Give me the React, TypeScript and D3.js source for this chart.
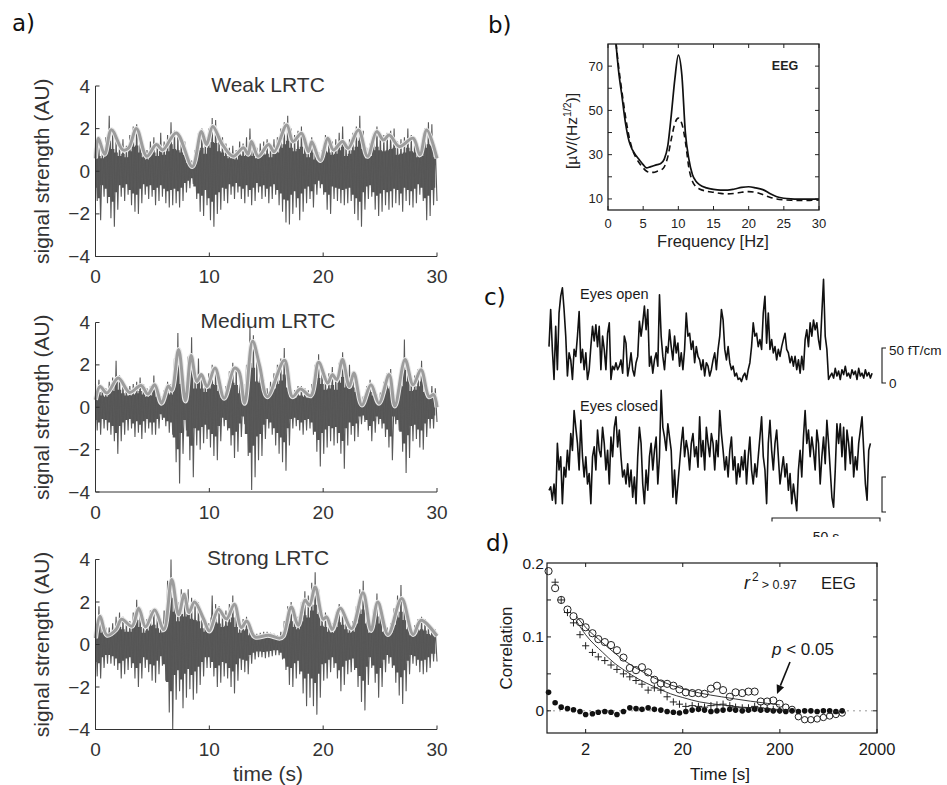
import React from 'react';
import * as d3 from 'd3';

const SANS = 'Liberation Sans, Arial, Helvetica, sans-serif';
const LABEL_FONT = 'DejaVu Sans, Verdana, sans-serif';

// ---------- panel a: three simulated signals (100 bins over 0-30 s) ----------
const TIME_TICKS = [0, 10, 20, 30];
const AMP_TICKS = [-4, -2, 0, 2, 4];

const weakHi = [1.5,1.3,1.1,1.6,2.6,1.9,1.6,1.3,1.5,1.2, 1.7,2.1,2.2,1.6,1.2,1.0,1.4,1.6,1.3,1.8, 1.4,1.7,2.3,1.9,1.8,1.6,1.4,0.7,0.5,1.0, 1.8,2.0,1.5,2.0,2.5,2.4,1.7,1.6,1.3,1.1, 1.2,1.0,1.4,1.3,1.6,2.0,1.3,1.1,1.3,1.4, 1.5,1.2,1.5,1.6,2.0,2.3,2.6,2.0,1.7,1.9, 2.1,1.5,1.2,1.6,1.0,0.9,1.0,1.7,1.6,1.4, 1.5,1.8,2.1,1.3,1.5,1.8,2.1,2.6,1.9,1.1, 1.3,1.8,2.1,1.8,1.7,1.8,1.9,2.0,1.4,1.5, 1.6,2.0,1.7,1.6,1.2,1.3,2.0,2.3,2.2,1.2];
const weakLo = [-1.4,-2.3,-1.2,-1.5,-2.2,-2.6,-1.8,-1.2,-1.4,-1.1, -1.6,-1.9,-2.0,-1.5,-1.1,-1.3,-1.2,-1.6,-1.4,-1.2, -1.5,-1.7,-1.6,-1.5,-1.7,-1.4,-1.0,-0.8,-0.6,-1.3, -1.9,-2.1,-1.6,-2.3,-2.6,-2.0,-1.8,-1.4,-1.5,-1.1, -1.3,-1.0,-1.3,-1.5,-1.2,-1.6,-1.4,-1.0,-1.3,-1.2, -1.5,-1.3,-1.1,-1.6,-1.9,-2.4,-2.5,-2.0,-1.7,-2.3, -1.9,-1.5,-1.3,-1.7,-1.1,-0.8,-1.1,-1.8,-2.0,-1.3, -1.4,-1.5,-1.6,-1.5,-1.4,-2.0,-2.3,-2.6,-1.8,-1.3, -1.2,-1.8,-2.1,-1.9,-1.6,-1.8,-1.7,-1.5,-1.6,-1.9, -1.4,-1.6,-1.7,-1.5,-1.1,-1.4,-2.3,-2.1,-1.6,-1.4];
const weakEnv: [number, number][] = [[0,0.6],[0.25,1.55],[0.8,0.8],[1.4,1.95],[2.4,1.0],[2.9,1.08],[3.6,2.0],[4.5,0.7],[5.35,1.25],[5.9,1.0],[7.1,1.8],[8.5,0.22],[9.3,1.86],[9.75,1.25],[10.3,2.1],[11.1,1.3],[12.1,0.7],[13.0,1.1],[13.4,0.8],[13.7,1.4],[14.3,0.7],[15.2,1.25],[15.7,0.92],[16.8,2.17],[17.35,1.4],[18.1,1.78],[18.7,0.92],[19.0,1.39],[19.75,0.5],[20.4,1.55],[20.9,1.0],[21.7,1.4],[22.2,1.08],[23.1,1.94],[23.9,0.7],[24.7,1.86],[25.3,1.47],[25.8,1.7],[26.7,1.16],[27.9,1.55],[28.5,0.77],[29.1,1.94],[30,0.6]];

const mediumHi = [1.1,1.3,1.0,0.9,1.2,1.4,2.2,1.5,1.2,1.0, 1.0,1.1,1.2,1.4,1.1,0.9,1.0,1.5,0.9,0.5, 0.8,1.2,1.1,2.3,3.5,2.0,0.9,2.4,3.3,1.6, 2.3,1.6,1.3,1.6,2.0,1.9,1.4,0.8,1.0,1.7, 2.1,1.9,1.2,0.7,2.0,3.8,3.4,2.2,2.1,1.3, 0.9,1.2,1.6,2.0,2.3,2.8,1.7,0.9,0.8,1.0, 1.0,0.9,0.8,1.1,2.0,2.5,2.0,1.5,1.6,1.9, 1.5,2.1,2.6,1.7,2.0,1.7,1.3,0.6,0.5,1.0, 1.3,1.0,0.6,0.7,1.2,1.6,1.8,0.5,0.9,1.8, 3.2,2.2,1.4,1.5,1.8,2.2,1.3,0.8,1.0,0.9];
const mediumLo = [-1.1,-1.3,-1.0,-1.1,-1.3,-1.6,-2.2,-1.6,-1.3,-1.1, -1.0,-1.4,-1.2,-1.5,-1.2,-1.0,-1.3,-1.3,-1.0,-0.6, -0.9,-1.2,-1.3,-2.6,-3.6,-2.2,-1.1,-2.5,-3.3,-1.8, -2.0,-1.7,-1.5,-1.9,-2.3,-2.5,-1.6,-0.9,-1.1,-1.8, -2.4,-2.1,-1.4,-0.8,-2.3,-3.9,-3.3,-2.5,-2.3,-1.5, -1.0,-1.3,-1.8,-2.2,-2.6,-3.0,-1.8,-1.0,-0.9,-1.1, -1.3,-1.1,-1.0,-1.3,-2.1,-2.8,-2.2,-1.9,-1.6,-1.8, -1.7,-2.2,-2.9,-1.8,-1.3,-1.6,-1.4,-0.8,-0.7,-1.1, -1.6,-1.2,-0.8,-1.0,-1.4,-1.9,-2.5,-0.8,-1.1,-2.1, -3.1,-2.4,-1.6,-1.5,-1.9,-2.0,-1.4,-1.0,-1.0,-0.7];
const mediumEnv: [number, number][] = [[0,0.35],[0.4,0.98],[1.0,0.67],[2.0,1.38],[3.0,0.7],[4.0,1.03],[4.6,0.62],[5.2,1.06],[5.8,0.19],[6.4,1.0],[6.7,0.8],[7.3,2.73],[7.9,0.3],[8.4,2.44],[8.9,1.22],[9.3,1.54],[9.8,0.98],[10.5,1.85],[11.3,0.43],[12.2,1.85],[12.6,1.7],[13.1,0.19],[13.8,3.12],[14.4,2.0],[15.1,0.5],[16.6,2.22],[17.3,0.5],[18.0,0.86],[18.9,0.54],[19.6,2.12],[20.4,1.14],[20.8,1.54],[21.2,1.3],[21.7,2.25],[22.3,0.98],[22.7,1.62],[23.4,0.11],[24.2,1.06],[24.9,0.19],[25.8,1.54],[26.3,0.06],[27.2,2.25],[27.9,1.06],[28.6,1.77],[29.3,0.5],[29.7,0.6],[30,0.0]];

const strongHi = [1.1,1.8,1.0,0.8,0.8,1.0,1.3,1.5,1.3,1.1, 1.1,1.5,2.1,1.5,1.0,1.2,1.6,1.7,1.4,1.0, 1.6,3.0,4.0,2.8,2.0,2.6,2.4,2.6,2.2,2.1, 2.0,1.4,1.1,1.0,2.3,1.9,1.8,1.5,1.6,1.9, 2.3,1.5,1.0,1.2,1.3,0.8,0.6,0.5,0.55,0.6, 0.6,0.55,0.5,0.45,0.6,1.1,1.8,2.0,1.5,1.3, 2.0,2.5,2.3,2.9,3.4,2.6,1.6,1.5,1.1,1.0, 1.5,1.9,1.7,1.3,1.0,1.1,1.8,2.6,3.0,1.8, 1.0,1.7,2.4,1.8,1.1,0.8,1.0,1.7,2.3,2.8, 2.1,1.3,0.8,0.9,1.2,1.3,1.2,0.9,0.8,0.7];
const strongLo = [-1.5,-1.6,-1.1,-0.9,-0.9,-1.0,-1.2,-1.6,-1.4,-1.2, -1.1,-1.6,-2.0,-1.6,-1.1,-1.3,-1.7,-1.8,-1.4,-1.0, -1.7,-3.2,-4.0,-2.6,-2.2,-3.0,-2.5,-2.1,-2.6,-2.3, -1.9,-1.5,-1.1,-1.1,-1.5,-2.0,-1.8,-1.5,-1.6,-2.0, -2.3,-1.7,-1.2,-1.3,-1.4,-0.9,-0.7,-0.6,-0.6,-0.65, -0.6,-0.55,-0.5,-0.5,-0.7,-1.2,-1.9,-2.0,-1.6,-1.4, -2.3,-2.9,-2.5,-2.9,-3.3,-2.5,-1.7,-1.6,-1.3,-1.1, -1.6,-2.2,-1.9,-1.4,-1.3,-1.2,-2.0,-2.7,-3.1,-1.9, -1.1,-1.8,-2.5,-2.0,-1.3,-0.9,-1.1,-1.8,-2.4,-2.8, -2.2,-1.4,-0.9,-1.0,-1.3,-1.4,-1.3,-1.1,-0.8,-0.8];
const strongEnv: [number, number][] = [[0,0.3],[0.4,1.33],[1.0,0.44],[1.8,0.7],[2.3,1.19],[3.2,0.86],[3.8,1.7],[4.4,0.83],[5.2,1.62],[6.0,0.7],[6.7,3.06],[7.3,1.4],[7.8,2.37],[8.2,1.5],[8.7,2.0],[9.5,1.2],[10.0,0.64],[10.8,1.66],[11.5,1.2],[12.2,1.9],[12.8,0.8],[13.3,1.1],[14.0,0.36],[15.2,0.44],[16.2,0.3],[16.5,0.4],[17.2,1.77],[17.8,0.9],[18.4,2.09],[18.8,1.85],[19.3,2.71],[20.0,1.19],[20.3,1.3],[20.8,0.7],[21.5,1.7],[22.5,0.75],[23.5,2.43],[24.2,0.67],[24.8,2.0],[25.7,0.47],[26.9,2.16],[27.9,0.47],[28.6,1.14],[30,0.4]];

// ---------- panel b: amplitude spectra ----------
const FREQS = [1.0,1.5,2,2.5,3,3.5,4,4.5,5,5.5, 6,6.5,7,7.5,8,8.5,9,9.5,10,10.5, 11,11.5,12,12.5,13,14,15,16,17,18, 19,20,21,22,23,24,25,26,27,28, 29,30];
const specSolid = [85,68,56,44,36,32,29.5,27.5,25.5,24, 24.5,25,25.5,26,28,34,48,64,75,66, 40,28,21,18,16.5,15,14.3,14,14,14.5, 15.2,15.5,15,14.2,12.5,11,10.3,10,9.9,9.9, 9.9,9.9];
const specDashed = [85,70,58,47,38,32,28.5,26,24,22.5, 22,22,22.5,23,24.5,29,37,44,46.5,44, 36,24,18,15.5,14.5,13.5,13,12.5,12.3,12.5, 13,13.3,13,12,10.8,10,9.6,9.4,9.3,9.3, 9.4,9.5];
const FREQ_TICKS = [0, 5, 10, 15, 20, 25, 30];
const SPEC_LABEL_TICKS = [10, 30, 50, 70];
const SPEC_MINOR_TICKS = [10, 20, 30, 40, 50, 60, 70];

// ---------- panel c: MEG amplitude traces (fT/cm), one sample per 0.775 s ----------
const SAMPLE_DT = 0.775;
const eyesOpen = [52,105,48,5,81,19,100,124,136,105, 67,10,43,33,5,48,38,67,102,29, 48,19,43,5,19,52,81,60,83,52, 81,19,67,48,19,71,86,5,24,19, 29,19,24,33,14,67,57,10,24,43, 19,10,29,38,88,67,86,110,76,105, 24,38,14,33,43,24,126,67,38,19, 52,43,76,52,33,67,43,57,24,43, 19,48,100,67,71,48,60,29,52,38, 33,19,33,10,29,24,10,19,33,43, 19,48,67,105,90,48,33,52,29,19, 24,10,14,5,7,2,10,14,5,19, 29,52,86,67,71,52,62,48,100,124, 57,100,48,62,43,52,33,48,38,52, 62,71,48,43,29,38,24,38,19,33, 14,38,19,62,76,52,86,67,90,76, 86,62,48,100,148,67,48,5,10, 14,7,21,10,17,5,19,12,24,10, 14,7,19,12,17,5,21,10,14,7, 19,10,15,7,14];
const eyesClosed = [31,36,17,40,12,98,60,79,12,64, 50,88,60,112,88,145,121,98,60,131, 79,50,79,40,55,12,79,93,60,117, 88,79,121,98,60,88,40,107,79,121, 136,93,117,79,50,60,40,69,36,60, 21,50,12,79,121,98,40,12,60,31, 79,98,60,88,107,40,79,174,121,107, 88,126,107,88,21,60,12,40,69,98, 121,79,102,88,60,98,112,79,93,64, 136,79,102,60,121,98,79,112,98,60, 102,79,145,112,88,60,79,50,88,107, 60,79,40,69,50,79,60,88,40,79, 107,60,40,69,50,79,107,136,79,60, 12,98,131,88,60,98,117,79,40,60, 79,50,69,31,55,12,40,21,2,60, 88,50,107,145,98,117,79,107,88,60, 117,98,40,79,107,69,131,98,60,21, 7,60,126,98,126,79,121,60,117,98, 69,107,50,79,60,98,117,136,88,40, 17,88,98];

// ---------- panel d: autocorrelation vs time lag ----------
const LAGS = [0.83,0.97,1.12,1.3,1.5,1.75,2.0,2.35,2.7,3.15, 3.65,4.2,4.9,5.7,6.6,7.6,8.8,10.2,11.9,13.8, 16,18.5,21.5,25,29,33.5,39,45,52,61, 70,82,95,110,127,148,171,199,230,267, 310,360,417,484,561,651,755,876];
const corrCircles = [0.189,0.166,0.150,0.137,0.128,0.120,0.113,0.105,0.097,0.093, 0.089,0.082,0.072,0.058,0.055,0.059,0.052,0.042,0.037,0.0365, 0.034,0.029,0.025,0.024,0.024,0.023,0.030,0.034,0.028,0.019, 0.025,0.024,0.026,0.026,0.0126,0.0126,0.014,0.0095,0.005,0.002, -0.008,-0.012,-0.012,-0.011,-0.009,-0.007,-0.005,-0.003];
const corrPlus: (number | null)[] = [null,0.174,0.150,0.133,0.119,0.103,0.088,0.079,0.073,0.068, 0.062,0.056,0.050,0.046,0.041,0.036,0.028,0.031,0.028,0.019, 0.012,0.009,0.006,0.007,0.006,0.005,0.007,0.008,0.009,0.007, 0.005,0.004,0.004,0.006,0.004,0.003,0.002,0.001];
const corrDots = [0.025,0.011,0.005,0.003,0.0015,-0.001,-0.005,-0.004,-0.002,-0.001, -0.002,-0.005,-0.001,0.004,0.003,0.002,0.004,0.002,0.001,-0.001, -0.002,-0.003,-0.001,0.001,0.002,0.001,-0.001,0.000,0.001,0.002, 0.001,0.000,0.001,0.002,0.001,0.001,0.000,0.000,-0.001,0.000, -0.001,0.000,0.000,-0.001,0.000,0.000,-0.001,0.000];
const fitCircles: [number, number][] = [[1.6,0.128],[2,0.113],[3,0.092],[4,0.078],[5,0.068],[7,0.056],[10,0.045],[15,0.035],[20,0.030],[30,0.024],[50,0.019],[70,0.016],[100,0.013],[150,0.010],[200,0.008]];
const fitPlus: [number, number][] = [[1.6,0.122],[2,0.103],[3,0.079],[4,0.064],[5,0.055],[7,0.043],[10,0.033],[15,0.023],[20,0.018],[30,0.012],[50,0.008],[80,0.005],[120,0.004]];
const LAG_TICKS = [2, 20, 200, 2000];
const CORR_TICKS = [0, 0.05, 0.1, 0.15];
const CORR_LABELS = [0, 0.1, 0.2];

type SigProps = {
  top: number; bottom: number; title: string; titleY: number;
  hi: number[]; lo: number[]; env: [number, number][]; xLabel?: string;
};

function SignalPanel({ top, bottom, title, titleY, hi, lo, env, xLabel }: SigProps) {
  const x = d3.scaleLinear().domain([0, 30]).range([95.5, 437]);
  const y = d3.scaleLinear().domain([-4, 4]).range([bottom, top]);
  // each bin: a swing from its max to its min, drawn as one zigzag trace
  const half = 30 / hi.length / 2;
  const binTime = d3.scaleLinear().domain([0, hi.length - 1]).range([0, 30 - half]);
  const zig: [number, number][] = hi.flatMap((h, i) => [[binTime(i), h], [binTime(i) + half, lo[i]]] as [number, number][]);
  const trace = d3.line<[number, number]>().x((d) => x(d[0])).y((d) => y(d[1]));
  const core = d3.area<number>()
    .x((_, i) => x(binTime(i)))
    .y0((_, i) => y(lo[i] * 0.55))
    .y1((d) => y(d * 0.55))
    .curve(d3.curveStep);
  const envLine = d3.line<[number, number]>()
    .x((d) => x(d[0]))
    .y((d) => y(d[1]))
    .curve(d3.curveCatmullRom.alpha(0.5));
  const ax = '#333';
  return (
    <g>
      <path d={core(hi) || ''} fill="#555" />
      <path d={trace(zig) || ''} fill="none" stroke="#595959" strokeWidth={1.1} />
      <path d={envLine(env) || ''} fill="none" stroke="#e9e9e9" strokeWidth={5} />
      <path d={envLine(env) || ''} fill="none" stroke="#9c9c9c" strokeWidth={3} />
      <line x1={x(0)} x2={x(0)} y1={top} y2={bottom} stroke={ax} />
      <line x1={x(0)} x2={x(30)} y1={bottom} y2={bottom} stroke={ax} />
      {AMP_TICKS.map((t) => (
        <g key={t}>
          <line x1={x(0)} x2={x(0) + 4} y1={y(t)} y2={y(t)} stroke={ax} />
          <text x={90} y={y(t) + 6.5} textAnchor="end" fontSize={19} fill={ax} fontFamily={SANS}>
            {t < 0 ? '\u2212' + Math.abs(t) : t}
          </text>
        </g>
      ))}
      {TIME_TICKS.map((t) => (
        <g key={t}>
          <line x1={x(t)} x2={x(t)} y1={bottom} y2={bottom - 4} stroke={ax} />
          <text x={x(t)} y={bottom + 26.5} textAnchor="middle" fontSize={19} fill={ax} fontFamily={SANS}>{t}</text>
        </g>
      ))}
      <text x={268} y={titleY} textAnchor="middle" fontSize={21} fill={ax} fontFamily={SANS}>{title}</text>
      <text transform={`translate(49,${(top + bottom) / 2}) rotate(-90)`} textAnchor="middle" fontSize={21} fill={ax} fontFamily={SANS}>
        signal strength (AU)
      </text>
      {xLabel && (
        <text x={268} y={bottom + 51} textAnchor="middle" fontSize={21} fill={ax} fontFamily={SANS}>{xLabel}</text>
      )}
    </g>
  );
}

function SpectrumPanel() {
  const L = 608, R = 819, T = 44, B = 210;
  const x = d3.scaleLinear().domain([0, 30]).range([L, R]);
  const y = d3.scaleLinear().domain([5, 80]).range([B, T]);
  const line = d3.line<number>()
    .x((_, i) => x(FREQS[i]))
    .y((d) => y(d))
    .curve(d3.curveMonotoneX);
  const c = '#222';
  return (
    <g>
      <defs>
        <clipPath id="specClip"><rect x={L} y={T} width={R - L} height={B - T} /></clipPath>
      </defs>
      <g clipPath="url(#specClip)">
        <path d={line(specDashed) || ''} fill="none" stroke="#111" strokeWidth={1.6} strokeDasharray="6 4" />
        <path d={line(specSolid) || ''} fill="none" stroke="#111" strokeWidth={1.7} />
      </g>
      <rect x={L} y={T} width={R - L} height={B - T} fill="none" stroke={c} strokeWidth={1.3} />
      {FREQ_TICKS.map((t) => (
        <g key={t}>
          <line x1={x(t)} x2={x(t)} y1={B} y2={B - 4} stroke={c} />
          <line x1={x(t)} x2={x(t)} y1={T} y2={T + 4} stroke={c} />
          <text x={x(t)} y={228} textAnchor="middle" fontSize={13} fill={c} fontFamily={SANS}>{t}</text>
        </g>
      ))}
      {SPEC_MINOR_TICKS.map((t) => (
        <g key={t}>
          <line x1={L} x2={L + 4} y1={y(t)} y2={y(t)} stroke={c} />
          <line x1={R} x2={R - 4} y1={y(t)} y2={y(t)} stroke={c} />
        </g>
      ))}
      {SPEC_LABEL_TICKS.map((t) => (
        <text key={t} x={603} y={y(t) + 4.5} textAnchor="end" fontSize={13} fill={c} fontFamily={SANS}>{t}</text>
      ))}
      <text x={785} y={70} textAnchor="middle" fontSize={12.5} fontWeight="bold" fill={c} fontFamily={SANS}>EEG</text>
      <text x={713} y={247} textAnchor="middle" fontSize={16.5} fill={c} fontFamily={SANS}>Frequency [Hz]</text>
      <text transform="translate(577,131) rotate(-90)" textAnchor="middle" fontSize={15.5} fill={c} fontFamily={SANS}>
        [{'\u00b5'}V/(Hz<tspan fontSize={10.5} dy={-6}>1/2</tspan><tspan dy={6}>)]</tspan>
      </text>
    </g>
  );
}

function TracePanel() {
  const x = d3.scaleLinear().domain([0, 50]).range([549, 549 + 108]);
  const yOpen = d3.scaleLinear().domain([0, 50]).range([383, 348]);
  const yClosed = d3.scaleLinear().domain([0, 50]).range([512, 477]);
  const lineOpen = d3.line<number>().x((_, i) => x(i * SAMPLE_DT)).y((d) => yOpen(d));
  const lineClosed = d3.line<number>().x((_, i) => x(i * SAMPLE_DT)).y((d) => yClosed(d));
  const barLen = x(50) - x(0);
  const c = '#1a1a1a';
  return (
    <g>
      <defs>
        <clipPath id="barTextClip"><rect x={760} y={520} width={140} height={17} /></clipPath>
      </defs>
      <path d={lineOpen(eyesOpen) || ''} fill="none" stroke="#111" strokeWidth={1.6} strokeLinejoin="round" />
      <path d={lineClosed(eyesClosed) || ''} fill="none" stroke="#111" strokeWidth={1.6} strokeLinejoin="round" />
      <text x={580} y={299} fontSize={14.5} fill={c} fontFamily={SANS}>Eyes open</text>
      <text x={580} y={411} fontSize={14.5} fill={c} fontFamily={SANS}>Eyes closed</text>
      <path d={`M886,${yOpen(50)} H882 V${yOpen(0)} H886`} fill="none" stroke={c} strokeWidth={1.1} />
      <text x={889} y={355} fontSize={13.5} fill={c} fontFamily={SANS}>50 fT/cm</text>
      <text x={889} y={388} fontSize={13.5} fill={c} fontFamily={SANS}>0</text>
      <path d={`M886,${yClosed(50)} H882 V${yClosed(0)} H886`} fill="none" stroke={c} strokeWidth={1.1} />
      <path d={`M772,521.5 V518 H${772 + barLen} V521.5`} fill="none" stroke={c} strokeWidth={1.1} />
      <text x={772 + barLen / 2} y={542} textAnchor="middle" fontSize={14} fill={c} fontFamily={SANS} clipPath="url(#barTextClip)">50 s</text>
    </g>
  );
}

function CorrelationPanel() {
  const L = 547, R = 877, T = 563, B = 733;
  const x = d3.scaleLog().domain([0.8, 2000]).range([L, R]);
  const y = d3.scaleLinear().domain([-0.03, 0.2]).range([B, T]);
  const fit = d3.line<[number, number]>().x((d) => x(d[0])).y((d) => y(d[1])).curve(d3.curveMonotoneX);
  const c = '#1a1a1a';
  const ax0 = 790, ay0 = 662, ax1 = 777, ay1 = 694;
  const ang = Math.atan2(ay1 - ay0, ax1 - ax0);
  const hl = 9, hw = 4;
  const bx = ax1 - hl * Math.cos(ang), by = ay1 - hl * Math.sin(ang);
  const head = `M${ax1},${ay1} L${bx + hw * Math.sin(ang)},${by - hw * Math.cos(ang)} L${bx - hw * Math.sin(ang)},${by + hw * Math.cos(ang)} Z`;
  return (
    <g>
      <line x1={L} x2={R} y1={y(0)} y2={y(0)} stroke="#999" strokeWidth={1} strokeDasharray="2 4" />
      <path d={fit(fitCircles) || ''} fill="none" stroke="#222" strokeWidth={0.9} />
      <path d={fit(fitPlus) || ''} fill="none" stroke="#222" strokeWidth={0.9} />
      {corrDots.map((v, i) => (
        <circle key={'d' + i} cx={x(LAGS[i])} cy={y(v)} r={2.8} fill="#111" />
      ))}
      {corrPlus.map((v, i) => v === null ? null : (
        <path key={'p' + i} d={`M${x(LAGS[i]) - 3.6},${y(v)} h7.2 M${x(LAGS[i])},${y(v) - 3.6} v7.2`} stroke="#222" strokeWidth={1} />
      ))}
      {corrCircles.map((v, i) => (
        <circle key={'c' + i} cx={x(LAGS[i])} cy={y(v)} r={i < 38 ? 3.6 : 3.2} fill="none" stroke="#222" strokeWidth={1} />
      ))}
      <rect x={L} y={T} width={R - L} height={B - T} fill="none" stroke={c} strokeWidth={1.2} />
      {LAG_TICKS.map((t) => (
        <g key={t}>
          <line x1={x(t)} x2={x(t)} y1={B} y2={B - 4} stroke={c} />
          <line x1={x(t)} x2={x(t)} y1={T} y2={T + 4} stroke={c} />
          <text x={x(t)} y={755} textAnchor="middle" fontSize={16.5} fill={c} fontFamily={SANS}>{t}</text>
        </g>
      ))}
      {CORR_TICKS.map((t) => (
        <g key={t}>
          <line x1={L} x2={L + 4} y1={y(t)} y2={y(t)} stroke={c} />
          <line x1={R} x2={R - 4} y1={y(t)} y2={y(t)} stroke={c} />
        </g>
      ))}
      {CORR_LABELS.map((t) => (
        <text key={t} x={544} y={y(t) + 5.5} textAnchor="end" fontSize={15.5} fill={c} fontFamily={SANS}>{t}</text>
      ))}
      <text transform={`translate(512,${(T + B) / 2}) rotate(-90)`} textAnchor="middle" fontSize={17} fill={c} fontFamily={SANS}>Correlation</text>
      <text x={720} y={780} textAnchor="middle" fontSize={17} fill={c} fontFamily={SANS}>Time [s]</text>
      <text x={744} y={589} fill={c} fontFamily={SANS}>
        <tspan fontSize={18} fontStyle="italic">r</tspan>
        <tspan fontSize={12} dx={2} dy={-8}>2</tspan>
        <tspan fontSize={12.5} dx={3} dy={8}>&gt; 0.97</tspan>
      </text>
      <text x={821} y={589} fontSize={16.5} fill={c} fontFamily={SANS}>EEG</text>
      <text x={772} y={655} fontSize={17} fill={c} fontFamily={SANS}>
        <tspan fontStyle="italic">p</tspan> &lt; 0.05
      </text>
      <line x1={ax0} y1={ay0} x2={bx} y2={by} stroke="#111" strokeWidth={1.6} />
      <path d={head} fill="#111" />
    </g>
  );
}

export default function App() {
  return (
    <svg width={947} height={785} viewBox="0 0 947 785"
      style={{ position: 'absolute', left: 0, top: 0, background: '#fff', display: 'block' }}>
      <rect x={0} y={0} width={947} height={785} fill="#fff" />
      <SignalPanel top={86} bottom={256.5} title="Weak LRTC" titleY={92} hi={weakHi} lo={weakLo} env={weakEnv} />
      <SignalPanel top={322.5} bottom={492} title="Medium LRTC" titleY={328} hi={mediumHi} lo={mediumLo} env={mediumEnv} />
      <SignalPanel top={559.5} bottom={729.5} title="Strong LRTC" titleY={565} hi={strongHi} lo={strongLo} env={strongEnv} xLabel="time (s)" />
      <SpectrumPanel />
      <TracePanel />
      <CorrelationPanel />
      <text x={12} y={31} fontSize={23} fill="#111" fontFamily={LABEL_FONT}>a)</text>
      <text x={488} y={33} fontSize={23} fill="#111" fontFamily={LABEL_FONT}>b)</text>
      <text x={484} y={305} fontSize={23} fill="#111" fontFamily={LABEL_FONT}>c)</text>
      <text x={486} y={551} fontSize={23} fill="#111" fontFamily={LABEL_FONT}>d)</text>
    </svg>
  );
}
